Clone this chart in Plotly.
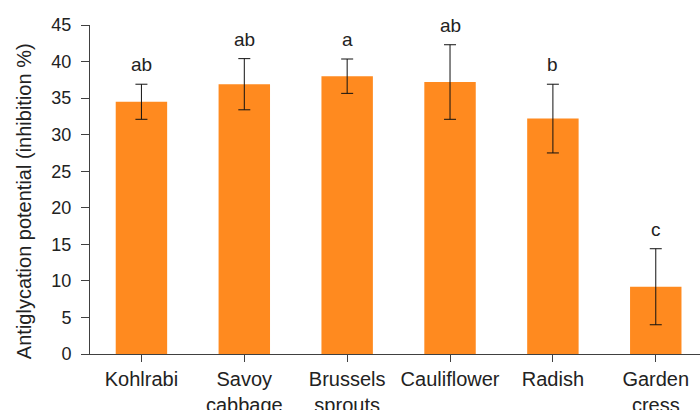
import plotly.graph_objects as go

categories = ["Kohlrabi", "Savoy<br>cabbage", "Brussels<br>sprouts", "Cauliflower", "Radish", "Garden<br>cress"]
means = [34.5, 36.9, 38.0, 37.2, 32.2, 9.2]
errors = [2.4, 3.5, 2.35, 5.1, 4.7, 5.2]
letters = ["ab", "ab", "a", "ab", "b", "c"]
y_ticks = [0, 5, 10, 15, 20, 25, 30, 35, 40, 45]

FONT = "Liberation Sans, Arial, sans-serif"
AXIS = "#404040"
TEXT = "#222222"

fig = go.Figure()
fig.add_trace(go.Bar(
    x=list(range(len(categories))),
    y=means,
    width=0.5,
    marker=dict(color="#FF8A1F", line=dict(width=0)),
    error_y=dict(type="data", array=errors, visible=True,
                 color="#111111", thickness=1, width=6),
))

# significance letters above each error bar
for i, (m, e, t) in enumerate(zip(means, errors, letters)):
    fig.add_annotation(x=i, y=m + e, text=t, showarrow=False,
                       yanchor="bottom", yshift=7,
                       font=dict(family=FONT, size=19, color=TEXT))

# y-axis title as a rotated annotation
fig.add_annotation(
    text="Antiglycation potential (inhibition %)",
    xref="paper", yref="paper", x=-0.108, y=0.465,
    xanchor="center", yanchor="middle", textangle=-90, showarrow=False,
    font=dict(family=FONT, size=20, color=TEXT),
)

fig.update_layout(
    width=700, height=410,
    margin=dict(l=90, r=0, t=25, b=56, autoexpand=False),
    plot_bgcolor="white", paper_bgcolor="white",
    showlegend=False,
    font=dict(family=FONT, size=19, color=TEXT),
)
fig.update_xaxes(
    tickmode="array", tickvals=list(range(len(categories))), ticktext=categories,
    range=[-0.5, 5.43],
    showline=True, linecolor=AXIS, linewidth=1,
    ticks="outside", tickson="boundaries", ticklen=7, tickcolor=AXIS,
    showgrid=False, zeroline=False, automargin=False,
    tickfont=dict(family=FONT, size=20, color=TEXT),
)
fig.update_yaxes(
    range=[0, 45], tickvals=y_ticks,
    showline=True, linecolor=AXIS, linewidth=1,
    ticks="outside", ticklen=8, tickcolor=AXIS, ticklabelstandoff=6,
    showgrid=False, zeroline=False, automargin=False,
    tickfont=dict(family=FONT, size=18, color=TEXT),
)

fig.write_html("out.html")
